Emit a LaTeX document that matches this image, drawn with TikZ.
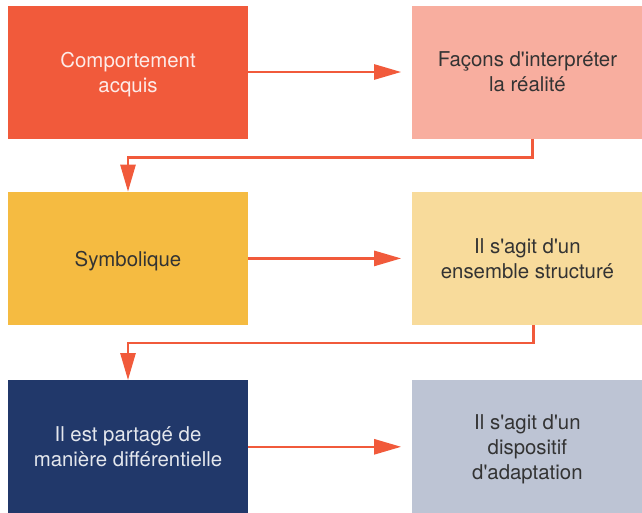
\documentclass[tikz,border=0pt]{standalone}
\usepackage{fontspec}
\setmainfont{TeX Gyre Heros}[Ligatures=TeXOff]
\usepackage{tikz}
\usepackage{xcolor}
\usetikzlibrary{positioning,arrows.meta}
\definecolor{coral}{HTML}{F15A3B}
\definecolor{salmon}{HTML}{F8AE9F}
\definecolor{mustard}{HTML}{F5BB41}
\definecolor{sand}{HTML}{F8DB9B}
\definecolor{navy}{HTML}{21386A}
\definecolor{haze}{HTML}{BDC4D4}
\definecolor{ink}{HTML}{333333}
\tikzset{
    flow-box/.style = {rectangle, minimum width=240pt, minimum height=133pt, inner sep=0pt, align=center, text depth=-8pt, text=ink, font=\fontsize{20.4}{25}\selectfont},
    flow-box-right/.style = {flow-box, minimum width=230pt},
    flow-arrow/.style = {draw=coral, line width=2.6pt, -{Triangle[length=27pt,width=15pt]}},
}

\begin{document}
\begin{tikzpicture}[x=1pt,y=1pt]
\useasboundingbox (0,0) rectangle (642,-512);
\node[flow-box, fill=coral, text=white!88!coral] (acquis) at (128,-72) {Comportement\\acquis};
\node[flow-box-right, fill=salmon, right=164pt of acquis] (interpreter) {Façons d'interpréter\\la réalité};
\node[flow-box, fill=mustard, below=53pt of acquis] (symbolique) {Symbolique};
\node[flow-box-right, fill=sand, right=164pt of symbolique] (structure) {Il s'agit d'un\\ensemble structuré};
\node[flow-box, fill=navy, text=white!88!navy, below=55pt of symbolique] (partage) {Il est partagé de\\manière différentielle};
\node[flow-box-right, fill=haze, right=164pt of partage] (adaptation) {Il s'agit d'un\\dispositif\\d'adaptation};
\draw[flow-arrow] (acquis.east) -- ([xshift=-11pt]interpreter.west);
\draw[flow-arrow] (symbolique.east) -- ([xshift=-11pt]structure.west);
\draw[flow-arrow] (partage.east) -- ([xshift=-11pt]adaptation.west);
\draw[flow-arrow] ([xshift=5pt]interpreter.south) -- ++(0,-19pt) -| (symbolique.north);
\draw[flow-arrow] ([xshift=6pt]structure.south) -- ++(0,-18pt) -| (partage.north);
\end{tikzpicture}
\end{document}
